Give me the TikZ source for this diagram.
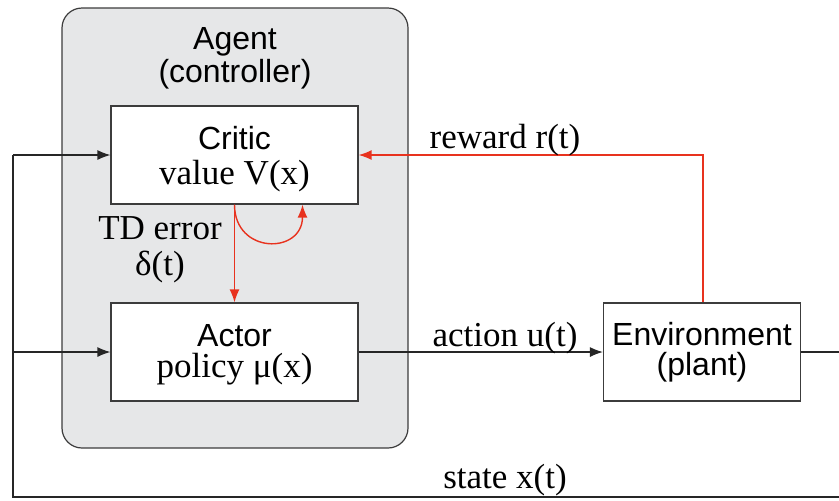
\documentclass[tikz,border=0pt]{standalone}
\usepackage{fontspec}
\setmainfont{Liberation Serif}
\setsansfont{Liberation Sans}
\usepackage{xcolor}
\usetikzlibrary{positioning,calc,arrows.meta}

\definecolor{tdred}{RGB}{232,50,30}
\definecolor{agentgray}{RGB}{230,231,232}
\definecolor{edgegray}{RGB}{60,60,60}

\begin{document}
\begin{tikzpicture}[
    x=0.5pt, y=-0.5pt,
    block/.style={                 % white boxes
        draw=edgegray, fill=white,
        line width=0.6pt,
        minimum width=123.5pt,
        minimum height=49pt,
        align=center,
        font=\fontsize{17.5}{15.5}\selectfont
    },
    agentbox/.style={              % grey rounded frame
        draw=edgegray, fill=agentgray,
        line width=0.6pt,
        rounded corners=10pt,
        minimum width=173pt,
        minimum height=220pt
    },
    lbl/.style={font=\fontsize{17.5}{18}\selectfont, align=center},
    flow/.style={-{Latex[length=6.5pt,width=5pt]}, line width=0.6pt, black!85},
    wire/.style={line width=0.6pt, black!85},
    tdflow/.style={-{Latex[length=6.5pt,width=5pt]}, line width=0.7pt, color=tdred}
    ]
    \useasboundingbox (0,0) rectangle (839,500);
    \clip (0,0) rectangle (839,500);

    % --- Agent frame ---
    \node[agentbox] (agent) at (235,228) {};
    \node[align=center, font=\sffamily\fontsize{16}{16.5}\selectfont] (agentlbl) at (235,58) {Agent\\(controller)};

    % --- blocks ---
    \node[block, font=\fontsize{17.5}{17.5}\selectfont] (critic) at (234.5,155) {\rule{0pt}{16pt}{\sffamily\fontsize{16}{18}\selectfont Critic}\\value V(x)};
    \node[block] (actor) at (234.5,352) {\rule{0pt}{14pt}{\sffamily\fontsize{16}{18}\selectfont Actor}\\policy μ(x)};
    \node[block, minimum width=98.5pt, font=\sffamily\fontsize{16}{15}\selectfont] (env) at (702,352) {Environment\\(plant)};

    % --- TD error ---
    \draw[tdflow] (critic.south) -- (actor.north);
    \draw[tdflow] (critic.south) .. controls ++(0,50) and ($(critic.south)+(68,50)$) .. ($(critic.south)+(68,0)$);
    \node[lbl] (tdlbl) at (160,250) {TD error\\δ(t)};

    % --- reward ---
    \draw[tdflow] ($(env.north)+(1,0)$) |- (critic.east);
    \node[lbl] (rewardlbl) at (505,140) {reward r(t)};

    % --- action ---
    \draw[flow] (actor.east) -- (env.west);
    \node[lbl] (actionlbl) at (505,338) {action u(t)};

    % --- state feedback ---
    \coordinate (sR) at (860,497);
    \coordinate (sL) at (13,497);
    \coordinate (sC) at (13,155);
    \coordinate (sA) at (13,352);
    \draw[wire] (env.east) -| (sR) -- (sL) -- (sC);
    \draw[flow] (sC) -- (critic.west);
    \draw[flow] (sA) -- (actor.west);
    \node[lbl] (statelbl) at (505,480) {state x(t)};

\end{tikzpicture}
\end{document}
